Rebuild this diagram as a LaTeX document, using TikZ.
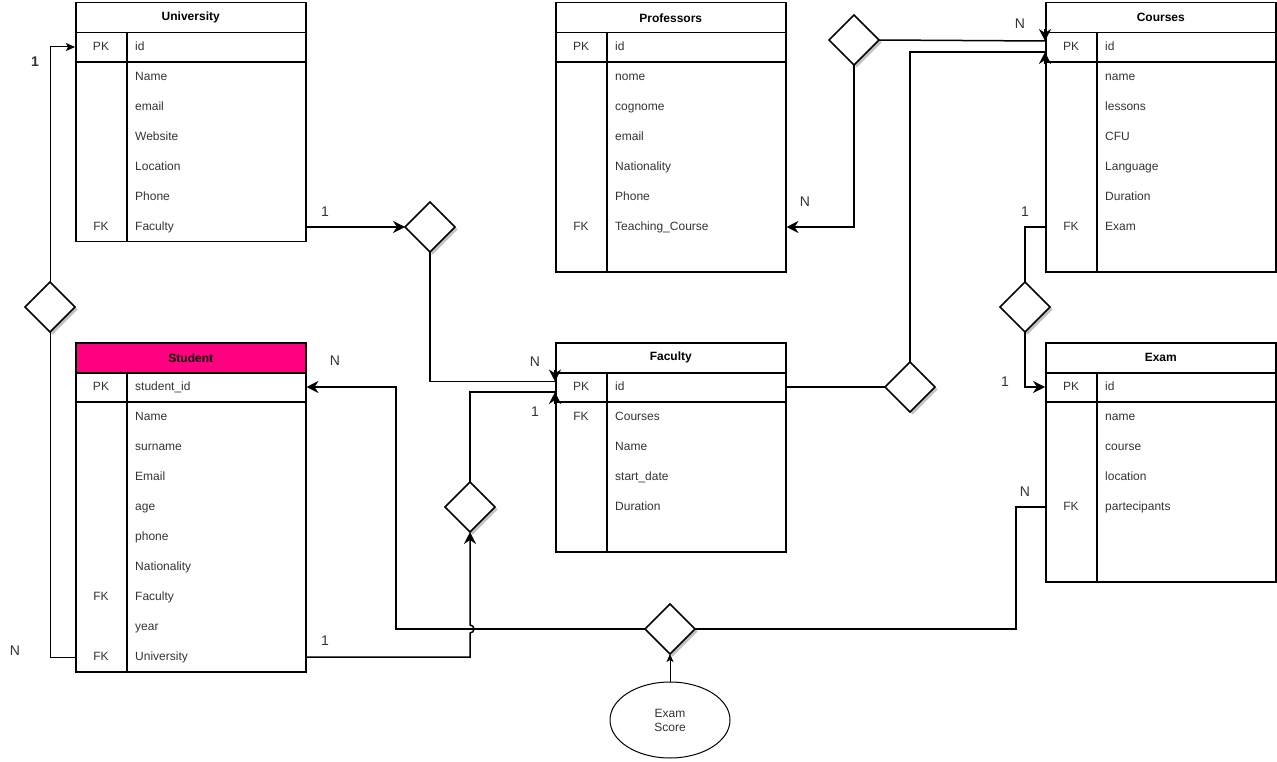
\documentclass[tikz,border=0pt]{standalone}
\usepackage{fontspec}
\setmainfont{Liberation Sans}
\usetikzlibrary{arrows.meta,shapes.geometric,shadows,calc}
\definecolor{stupink}{HTML}{FF0080}
\tikzset{
  hdr/.style={draw, line width=1.5, minimum width=230, minimum height=30, anchor=north west, font=\fontsize{12}{14}\selectfont\bfseries},
  tbl/.style={draw, line width=1.5, minimum width=230, anchor=north west},
  sep/.style={line width=1.5},
  fld/.style={anchor=west, inner sep=0, text height=9, text depth=2.5, text=black!80},
  key/.style={inner sep=0, text height=9, text depth=2.5, text=black!80},
  rel/.style={diamond, draw, line width=1.5, fill=white, minimum width=50, minimum height=50, inner sep=0, outer sep=0,
    drop shadow={shadow xshift=2.5pt, shadow yshift=-2.5pt, fill=black!30, opacity=0.8}},
  lnk/.style={line width=1.5},
  crd/.style={text=black!80, font=\fontsize{14}{16}\selectfont},
}
\begin{document}
\begin{tikzpicture}[x=1pt, y=-1pt, font=\fontsize{12}{14}\selectfont, >={Stealth[length=12,width=12,inset=4]}]
\useasboundingbox (0,0) rectangle (1277,762);
% University
\node[hdr] (uni-h) at (75,2) {University};
\node[tbl, minimum height=209] (uni) at (75,32) {};
\draw[sep] ($(uni.north west)+(0,30)$) -- ++(230,0) ($(uni.north west)+(52,0)$) -- ($(uni.south west)+(52,0)$);
\foreach \f [count=\i] in {id,Name,email,Website,Location,Phone,Faculty}
  \node[fld] (uni-\i) at ($(uni.north west)+(60,{15+30*(\i-1)})$) {\f};
\foreach \r/\k in {1/PK,7/FK}
  \node[key] (uni-k\r) at ($(uni.north west)+(26,{15+30*(\r-1)})$) {\k};
% Professors
\node[hdr] (prof-h) at (555,2) {Professors};
\node[tbl, minimum height=239] (prof) at (555,32) {};
\draw[sep] ($(prof.north west)+(0,30)$) -- ++(230,0) ($(prof.north west)+(52,0)$) -- ($(prof.south west)+(52,0)$);
\foreach \f [count=\i] in {id,nome,cognome,email,Nationality,Phone,Teaching\_Course}
  \node[fld] (prof-\i) at ($(prof.north west)+(60,{15+30*(\i-1)})$) {\f};
\foreach \r/\k in {1/PK,7/FK}
  \node[key] (prof-k\r) at ($(prof.north west)+(26,{15+30*(\r-1)})$) {\k};
% Courses
\node[hdr] (crs-h) at (1045,2) {Courses};
\node[tbl, minimum height=239] (crs) at (1045,32) {};
\draw[sep] ($(crs.north west)+(0,30)$) -- ++(230,0) ($(crs.north west)+(52,0)$) -- ($(crs.south west)+(52,0)$);
\foreach \f [count=\i] in {id,name,lessons,CFU,Language,Duration,Exam}
  \node[fld] (crs-\i) at ($(crs.north west)+(60,{15+30*(\i-1)})$) {\f};
\foreach \r/\k in {1/PK,7/FK}
  \node[key] (crs-k\r) at ($(crs.north west)+(26,{15+30*(\r-1)})$) {\k};
% Student
\node[hdr, fill=stupink] (stu-h) at (75,342) {Student};
\node[tbl, minimum height=299] (stu) at (75,372) {};
\draw[sep] ($(stu.north west)+(0,30)$) -- ++(230,0) ($(stu.north west)+(52,0)$) -- ($(stu.south west)+(52,0)$);
\foreach \f [count=\i] in {student\_id,Name,surname,Email,age,phone,Nationality,Faculty,year,University}
  \node[fld] (stu-\i) at ($(stu.north west)+(60,{15+30*(\i-1)})$) {\f};
\foreach \r/\k in {1/PK,8/FK,10/FK}
  \node[key] (stu-k\r) at ($(stu.north west)+(26,{15+30*(\r-1)})$) {\k};
% Faculty
\node[hdr] (fac-h) at (555,342) {Faculty};
\node[tbl, minimum height=179] (fac) at (555,372) {};
\draw[sep] ($(fac.north west)+(0,30)$) -- ++(230,0) ($(fac.north west)+(52,0)$) -- ($(fac.south west)+(52,0)$);
\foreach \f [count=\i] in {id,Courses,Name,start\_date,Duration}
  \node[fld] (fac-\i) at ($(fac.north west)+(60,{15+30*(\i-1)})$) {\f};
\foreach \r/\k in {1/PK,2/FK}
  \node[key] (fac-k\r) at ($(fac.north west)+(26,{15+30*(\r-1)})$) {\k};
% Exam
\node[hdr] (exm-h) at (1045,342) {Exam};
\node[tbl, minimum height=209] (exm) at (1045,372) {};
\draw[sep] ($(exm.north west)+(0,30)$) -- ++(230,0) ($(exm.north west)+(52,0)$) -- ($(exm.south west)+(52,0)$);
\foreach \f [count=\i] in {id,name,course,location,partecipants}
  \node[fld] (exm-\i) at ($(exm.north west)+(60,{15+30*(\i-1)})$) {\f};
\foreach \r/\k in {1/PK,5/FK}
  \node[key] (exm-k\r) at ($(exm.north west)+(26,{15+30*(\r-1)})$) {\k};
% relations
\node[rel] (d1) at (50,307) {};
\node[rel] (d2) at (430,227) {};
\node[rel] (d3) at (854,40) {};
\node[rel] (d4) at (1025,307) {};
\node[rel] (d5) at (910,387) {};
\node[rel] (d6) at (470,507) {};
\node[rel] (d7) at (670,629) {};
\node[draw, ellipse, line width=1, minimum width=120, minimum height=76, align=center, text=black!80] (score) at (670,720) {Exam\\Score};
% end points on the id rows
\coordinate (facN) at ($(fac-1 -| fac.west)+(0,-5.5)$);
\coordinate (facM) at ($(fac-1 -| fac.west)+(0,5)$);
\coordinate (crsN) at ($(crs-1 -| crs.west)+(0,-6)$);
\coordinate (crsM) at ($(crs-1 -| crs.west)+(0,5)$);
% links
\draw[line width=1, -{Stealth[length=9,width=8,inset=2]}] (d1.north) |- (uni-1 -| uni.west);
\draw[line width=1] (d1.south) |- (stu-10 -| stu.west);
\draw[lnk, ->] (uni-7 -| uni.east) -- (d2.west);
\draw[lnk] (d2.south) |- (facN);
\draw[lnk, ->] ($(facN)+(0,-12)$) -- (facN);
\draw[lnk] (d6.north) |- (facM);
\draw[lnk, ->] ($(facM)+(0,12)$) -- (facM);
\draw[lnk, ->] (stu-10 -| stu.east) -| ($(d6.south |- d7.west)+(0,4)$) arc (90:-90:4) -- (d6.south);
\draw[lnk, ->] (d7.west) -- ++(-249,0) |- (stu-1 -| stu.east);
\draw[lnk] (d7.east) -- ++(321,0) |- (exm-5 -| exm.west);
\draw[line width=1, -{Stealth[length=8,width=7,inset=2]}] (score) -- (d7.south);
\draw[lnk] (d3.east) -- (crsN);
\draw[lnk, ->] ($(crsN)+(0,-12)$) -- (crsN);
\draw[lnk, ->] (d3.south) |- (prof-7 -| prof.east);
\draw[lnk] (fac-1 -| fac.east) -- (d5.west);
\draw[lnk] (d5.north) |- (crsM);
\draw[lnk, ->] ($(crsM)+(0,12)$) -- (crsM);
\draw[lnk] (crs-7 -| crs.west) -| (d4.north);
\draw[lnk, ->] (d4.south) |- (exm-1 -| exm.west);
% cardinalities
\node[crd, font=\fontsize{14}{16}\selectfont\bfseries] (c0) at (35,62) {1};
\foreach \x/\y/\t [count=\i] in {15/651/N,325/212/1,535/362/N,535/412/1,335/361/N,325/641/1,805/202/N,1020/24/N,1025/212/1,1005/382/1,1025/492/N}
  \node[crd] (c\i) at (\x,\y) {\t};
\end{tikzpicture}
\end{document}
